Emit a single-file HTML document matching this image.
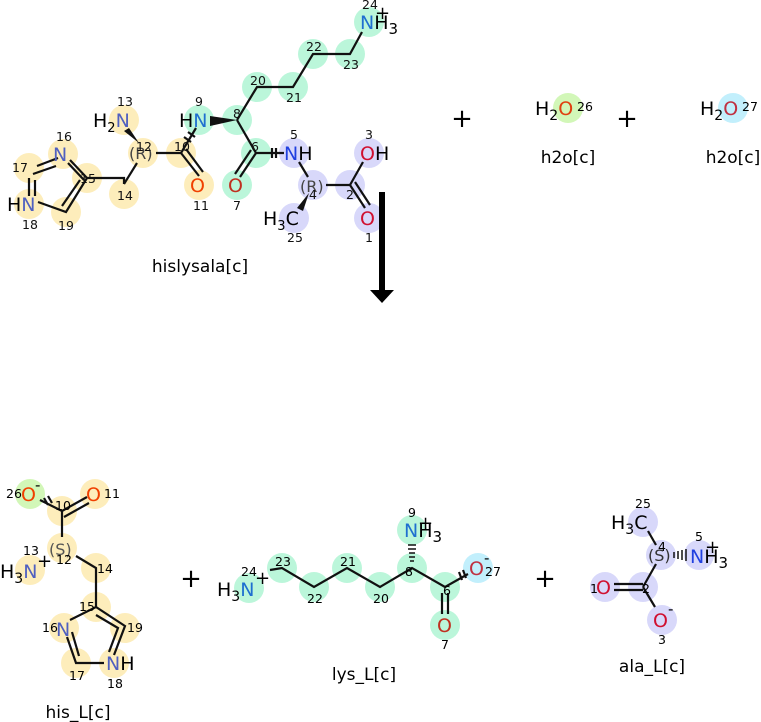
<!DOCTYPE html>
<html><head><meta charset="utf-8"><style>
html,body{margin:0;padding:0;background:#fff;width:761px;height:722px;overflow:hidden}
</style></head><body>
<svg width="761" height="722" viewBox="0 0 761 722" font-family="DejaVu Sans, Liberation Sans, sans-serif">
<!-- top highlights -->
<g opacity="0.85">
<g fill="#fdeab0">
<circle cx="29" cy="168" r="15"/><circle cx="63" cy="154" r="15"/><circle cx="87" cy="178" r="15"/>
<circle cx="29" cy="204" r="15"/><circle cx="66" cy="212" r="15"/><circle cx="124" cy="194" r="15"/>
<circle cx="143" cy="153" r="15"/><circle cx="124" cy="120" r="15"/><circle cx="181" cy="153" r="15"/>
<circle cx="199" cy="185" r="15"/>
</g>
<g fill="#b0f5d4">
<circle cx="199" cy="120" r="15"/><circle cx="237" cy="120" r="15"/><circle cx="257" cy="87" r="15"/>
<circle cx="293" cy="87" r="15"/><circle cx="313" cy="54" r="15"/><circle cx="350" cy="54" r="15"/>
<circle cx="369" cy="22" r="15"/><circle cx="256" cy="153" r="15"/><circle cx="237" cy="185" r="15"/>
</g>
<g fill="#d2d2fa">
<circle cx="294" cy="153" r="15"/><circle cx="313" cy="185" r="15"/><circle cx="350" cy="185" r="15"/>
<circle cx="369" cy="153" r="15"/><circle cx="369" cy="218" r="15"/><circle cx="294" cy="218" r="15"/>
</g>
</g>
<!-- top bonds -->
<g stroke="#111" stroke-width="2.2" fill="none">
<polyline points="37,166 58,158"/><polyline points="33,174 56,166"/>
<polyline points="70,160 87,178 66,212 38,202"/><polyline points="80,180 62,206"/>
<line x1="29" y1="178" x2="29" y2="196"/><line x1="35" y1="180" x2="35" y2="196"/>
<line x1="68" y1="163" x2="84" y2="180"/>
<polyline points="87,178 124,178 124,184"/>
<line x1="124" y1="184" x2="137" y2="163"/>
<line x1="156" y1="153" x2="181" y2="153"/>
<line x1="181" y1="153" x2="199" y2="176"/><line x1="186" y1="149" x2="203" y2="172"/>
<line x1="181" y1="153" x2="196" y2="128"/>
<polyline points="237,120 257,87 293,87 313,54 350,54 362,32"/>
<line x1="237" y1="120" x2="256" y2="153"/>
<line x1="256" y1="153" x2="240" y2="177"/><line x1="251" y1="150" x2="235" y2="174"/>
<line x1="256" y1="153" x2="284" y2="153"/>
<line x1="299" y1="162" x2="308" y2="177"/>
<line x1="326" y1="185" x2="350" y2="185"/>
<line x1="350" y1="185" x2="363" y2="162"/>
<line x1="350" y1="185" x2="365" y2="208"/><line x1="355" y1="182" x2="370" y2="205"/>
<line x1="184" y1="137" x2="191" y2="142"/><line x1="188" y1="132" x2="195" y2="137"/>
<line x1="272" y1="148" x2="272" y2="158"/><line x1="276" y1="148" x2="276" y2="158"/>
</g>
<polygon points="139,143 129,128 124,131" fill="#111"/>
<polygon points="210,116 237,120 210,126" fill="#111"/>
<polygon points="309,193 303,211 297,208" fill="#111"/>
<!-- top labels -->
<g font-size="19">
<text x="53" y="161" fill="#5060c0">N</text>
<text x="7" y="211">H<tspan fill="#5060c0">N</tspan></text>
<text x="93" y="127">H<tspan font-size="13" dy="5">2</tspan><tspan dy="-5" fill="#5060c0">N</tspan></text>
<text x="129" y="159" font-size="16" fill="#444">(R)</text>
<text x="190" y="192" fill="#f04000">O</text>
<text x="179" y="127">H<tspan fill="#1f6fd0">N</tspan></text>
<text x="228" y="192" fill="#c03020">O</text>
<text x="284" y="160" fill="#2040e0">N<tspan fill="#000">H</tspan></text>
<text x="300" y="192" font-size="16" fill="#444">(R)</text>
<text x="360" y="160" fill="#d01030">O<tspan fill="#000">H</tspan></text>
<text x="360" y="225" fill="#d01030">O</text>
<text x="263" y="225">H<tspan font-size="13" dy="5">3</tspan><tspan dy="-5">C</tspan></text>
<text x="360" y="29" fill="#1f6fd0">N<tspan fill="#000">H<tspan font-size="15" dy="5">3</tspan></tspan></text>
<text x="375" y="19" font-size="18">+</text>
</g>
<g font-size="12.5" fill="#111">
<text x="12" y="172">17</text><text x="56" y="141">16</text><text x="80" y="183">15</text><text x="22" y="229">18</text>
<text x="58" y="230">19</text><text x="117" y="200">14</text><text x="136" y="151">12</text><text x="117" y="106">13</text>
<text x="174" y="151">10</text><text x="193" y="210">11</text><text x="195" y="106">9</text><text x="233" y="118">8</text>
<text x="250" y="85">20</text><text x="286" y="102">21</text><text x="306" y="51">22</text><text x="343" y="69">23</text>
<text x="362" y="9">24</text><text x="251" y="151">6</text><text x="233" y="210">7</text><text x="290" y="139">5</text>
<text x="309" y="199">4</text><text x="346" y="199">2</text><text x="365" y="139">3</text><text x="365" y="242">1</text>
<text x="287" y="242">25</text>
</g>
<g font-size="17" fill="#000" text-anchor="middle">
<text x="200" y="272">hislysala[c]</text>
<text x="568" y="163">h2o[c]</text>
<text x="733" y="163">h2o[c]</text>
<text x="78" y="718">his_L[c]</text>
<text x="364" y="680">lys_L[c]</text>
<text x="652" y="672">ala_L[c]</text>
</g>
<!-- arrow -->
<rect x="379" y="192" width="6" height="100" fill="#000"/>
<polygon points="370,290 394,290 382,303" fill="#000"/>
<!-- water -->
<g font-size="26" text-anchor="middle">
<text x="462" y="127">+</text><text x="627" y="127">+</text>
<text x="191" y="587">+</text><text x="545" y="587">+</text>
</g>
<circle fill="#d2f7b8" cx="568" cy="108" r="15"/>
<circle fill="#c2effc" cx="733" cy="108" r="15"/>
<g font-size="19">
<text x="535" y="115">H<tspan font-size="14" dy="5">2</tspan><tspan dy="-5" fill="#e04010">O</tspan></text>
<text x="700" y="115">H<tspan font-size="14" dy="5">2</tspan><tspan dy="-5" fill="#c03040">O</tspan></text>
</g>
<g font-size="12.5"><text x="577" y="111">26</text><text x="742" y="111">27</text></g>
<!-- his_L -->
<circle fill="#d2f7b8" cx="30" cy="494" r="15"/>
<g fill="#fdeab0" opacity="0.85">
<circle cx="95" cy="494" r="15"/><circle cx="62" cy="511" r="15"/><circle cx="62" cy="548" r="15"/>
<circle cx="30" cy="570" r="15"/><circle cx="96" cy="568" r="15"/><circle cx="96" cy="607" r="15"/>
<circle cx="64" cy="628" r="15"/><circle cx="125" cy="628" r="15"/><circle cx="76" cy="663" r="15"/><circle cx="114" cy="663" r="15"/>
</g>
<g stroke="#111" stroke-width="2.2" fill="none">
<line x1="40" y1="500" x2="62" y2="511"/>
<line x1="62" y1="511" x2="87" y2="497"/><line x1="64" y1="517" x2="89" y2="503"/>
<line x1="62" y1="511" x2="62" y2="537"/>
<polyline points="76,556 96,568 96,607"/>
<polyline points="70,620 96,607 125,626 114,655"/><polyline points="96,615 118,628 109,652"/>
<polyline points="67,637 76,663 104,663"/><line x1="72" y1="632" x2="79" y2="656"/>
<line x1="44" y1="498" x2="48" y2="505"/><line x1="48" y1="496" x2="52" y2="503"/>
</g>
<g font-size="19">
<text x="21" y="501" fill="#f04000">O</text><text x="35" y="490" font-size="15">-</text>
<text x="86" y="501" fill="#f04000">O</text>
<text x="49" y="555" font-size="16" fill="#555">(S)</text>
<text x="0" y="578">H<tspan font-size="14" dy="5">3</tspan><tspan dy="-5" fill="#5060c0">N</tspan></text>
<text x="37" y="567" font-size="18">+</text>
<text x="56" y="636" fill="#5060c0">N</text>
<text x="106" y="670" fill="#5060c0">N<tspan fill="#000">H</tspan></text>
</g>
<g font-size="12.5">
<text x="6" y="498">26</text><text x="104" y="498">11</text><text x="55" y="510">10</text><text x="56" y="564">12</text>
<text x="23" y="555">13</text><text x="97" y="573">14</text><text x="79" y="611">15</text><text x="42" y="632">16</text>
<text x="127" y="632">19</text><text x="69" y="680">17</text><text x="107" y="688">18</text>
</g>
<!-- lys_L -->
<circle fill="#c2effc" cx="478" cy="568" r="15"/>
<g fill="#b0f5d4" opacity="0.85">
<circle cx="249" cy="588" r="15"/><circle cx="282" cy="568" r="15"/><circle cx="314" cy="587" r="15"/>
<circle cx="347" cy="568" r="15"/><circle cx="380" cy="587" r="15"/><circle cx="412" cy="568" r="15"/>
<circle cx="412" cy="530" r="15"/><circle cx="445" cy="587" r="15"/><circle cx="445" cy="625" r="15"/>
</g>
<g stroke="#111" stroke-width="2.2" fill="none">
<polyline points="270,570 282,568 314,587 347,568 380,587 412,568 445,587 468,574"/>
<line x1="442" y1="593" x2="442" y2="614"/><line x1="448" y1="593" x2="448" y2="614"/>
<line x1="459" y1="572" x2="462" y2="580"/><line x1="463" y1="570" x2="466" y2="578"/>
</g>
<g stroke="#111" stroke-width="1.5">
<line x1="408" y1="545" x2="416" y2="545"/><line x1="408" y1="549" x2="416" y2="549"/><line x1="409" y1="553" x2="415" y2="553"/><line x1="409" y1="557" x2="415" y2="557"/><line x1="410" y1="561" x2="414" y2="561"/>
</g>
<g font-size="19">
<text x="217" y="596">H<tspan font-size="14" dy="5">3</tspan><tspan dy="-5" fill="#1f6fd0">N</tspan></text>
<text x="255" y="584" font-size="18">+</text>
<text x="404" y="537" fill="#1f6fd0">N<tspan fill="#000">H<tspan font-size="15" dy="5">3</tspan></tspan></text>
<text x="418" y="529" font-size="18">+</text>
<text x="469" y="575" fill="#c03040">O</text><text x="484" y="563" font-size="15">-</text>
<text x="437" y="632" fill="#c03020">O</text>
</g>
<g font-size="12.5">
<text x="241" y="576">24</text><text x="275" y="566">23</text><text x="307" y="603">22</text><text x="340" y="566">21</text>
<text x="373" y="603">20</text><text x="405" y="576">8</text><text x="408" y="517">9</text><text x="443" y="595">6</text>
<text x="485" y="576">27</text><text x="441" y="649">7</text>
</g>
<!-- ala_L -->
<g fill="#d2d2fa" opacity="0.85">
<circle cx="643" cy="522" r="15"/><circle cx="661" cy="555" r="15"/><circle cx="699" cy="555" r="15"/>
<circle cx="643" cy="587" r="15"/><circle cx="605" cy="587" r="15"/><circle cx="662" cy="620" r="15"/>
</g>
<g stroke="#111" stroke-width="2.2" fill="none">
<line x1="648" y1="531" x2="656" y2="545"/>
<line x1="656" y1="564" x2="643" y2="587"/>
<line x1="614" y1="584" x2="643" y2="584"/><line x1="614" y1="590" x2="643" y2="590"/>
<line x1="643" y1="587" x2="655" y2="607"/>
</g>
<g stroke="#111" stroke-width="1.5">
<line x1="674" y1="552" x2="674" y2="558"/><line x1="678" y1="551" x2="678" y2="559"/><line x1="682" y1="550" x2="682" y2="560"/><line x1="686" y1="549" x2="686" y2="561"/>
</g>
<g font-size="19">
<text x="611" y="529">H<tspan font-size="14" dy="5">3</tspan><tspan dy="-5">C</tspan></text>
<text x="648" y="561" font-size="16" fill="#333">(S)</text>
<text x="690" y="563" fill="#2040e0">N<tspan fill="#000">H<tspan font-size="15" dy="5">3</tspan></tspan></text>
<text x="705" y="553" font-size="18">+</text>
<text x="596" y="594" fill="#d01030">O</text>
<text x="653" y="627" fill="#d01030">O</text><text x="668" y="614" font-size="15">-</text>
</g>
<g font-size="12.5">
<text x="635" y="508">25</text><text x="658" y="551">4</text><text x="695" y="541">5</text><text x="642" y="593">2</text>
<text x="590" y="593">1</text><text x="658" y="644">3</text>
</g>
</svg>
</body></html>
